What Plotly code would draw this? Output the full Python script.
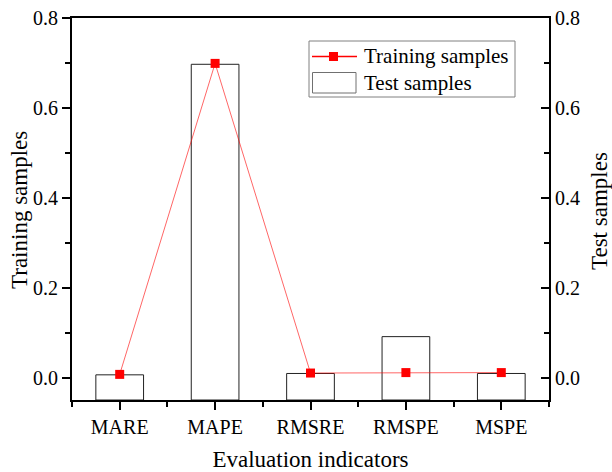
import plotly.graph_objects as go

categories = ["MARE", "MAPE", "RMSRE", "RMSPE", "MSPE"]
training = [0.007, 0.699, 0.010, 0.011, 0.011]
test = [0.006, 0.697, 0.009, 0.091, 0.009]
y_ticks = [0.0, 0.2, 0.4, 0.6, 0.8]
series_names = ["Training samples", "Test samples"]

Y_MIN, Y_MAX = -0.05, 0.8
FONT = "Liberation Serif"
W, H = 612, 472
ML, MR, MT, MB = 72, 63, 18, 72
xpos = list(range(len(categories)))


def px(x):
    return (x - ML) / (W - ML - MR)


def py(y):
    return (H - MB - y) / (H - MT - MB)


fig = go.Figure()
fig.add_trace(go.Scatter(
    x=xpos, y=training, name=series_names[0], yaxis="y2",
    mode="lines+markers", showlegend=False,
    line=dict(color="rgba(255,0,0,0.6)", width=1),
    marker=dict(symbol="square", size=9, color="#ff0000"),
))
fig.add_trace(go.Bar(
    x=xpos, y=[v - Y_MIN for v in test], base=Y_MIN, name=series_names[1],
    yaxis="y", width=0.5, showlegend=False,
    marker=dict(color="white", line=dict(color="#222222", width=1)),
))

tickfont = dict(family=FONT, size=20, color="black")
titlefont = dict(family=FONT, size=23, color="black")

# manual legend (box, samples, labels)
shapes = [
    dict(type="rect", xref="paper", yref="paper",
         x0=px(309), x1=px(515), y0=py(97), y1=py(41),
         line=dict(color="#808080", width=1), fillcolor="white", layer="above"),
    dict(type="line", xref="paper", yref="paper",
         x0=px(312), x1=px(357), y0=py(56.5), y1=py(56.5),
         line=dict(color="#ff0000", width=1.5), layer="above"),
    dict(type="rect", xref="paper", yref="paper",
         x0=px(329), x1=px(338), y0=py(61), y1=py(52),
         line=dict(width=0), fillcolor="#ff0000", layer="above"),
    dict(type="rect", xref="paper", yref="paper",
         x0=px(312.5), x1=px(356), y0=py(93), y1=py(72.5),
         line=dict(color="#707070", width=1), fillcolor="white", layer="above"),
]
legend_font = dict(family=FONT, size=21, color="black")
annotations = [
    dict(text=series_names[0], xref="paper", yref="paper", x=px(362), y=py(56),
         xanchor="left", yanchor="middle", showarrow=False, font=legend_font),
    dict(text=series_names[1], xref="paper", yref="paper", x=px(362), y=py(83),
         xanchor="left", yanchor="middle", showarrow=False, font=legend_font),
    dict(text="Test samples", xref="paper", yref="paper", x=px(600), y=py(211),
         xanchor="center", yanchor="middle", textangle=-90, showarrow=False,
         font=titlefont),
    dict(text="Training samples", xref="paper", yref="paper", x=px(19), y=py(210),
         xanchor="center", yanchor="middle", textangle=-90, showarrow=False,
         font=titlefont),
]

fig.update_layout(
    width=W, height=H,
    template="none",
    paper_bgcolor="white", plot_bgcolor="white",
    margin=dict(l=ML, r=MR, t=MT, b=MB),
    font=dict(family=FONT, color="black"),
    showlegend=False,
    shapes=shapes,
    annotations=annotations,
    xaxis=dict(
        range=[-0.5, len(categories) - 0.5],
        tickvals=xpos, ticktext=categories,
        showline=True, linecolor="black", linewidth=2, mirror=True,
        ticks="outside", ticklen=8, tickwidth=2, tickcolor="black",
        minor=dict(ticks="outside", tick0=0.5, dtick=1, ticklen=5, tickwidth=2, tickcolor="black"),
        showgrid=False, zeroline=False, automargin=False,
        tickfont=tickfont,
        title=dict(text="Evaluation indicators", font=titlefont, standoff=14),
    ),
    yaxis=dict(
        side="right", range=[Y_MIN, Y_MAX],
        tickvals=y_ticks, tickformat=".1f",
        showline=True, linecolor="black", linewidth=2,
        ticks="inside", ticklen=8, tickwidth=2, tickcolor="black",
        minor=dict(ticks="inside", dtick=0.1, tick0=0, ticklen=5, tickwidth=2, tickcolor="black"),
        showgrid=False, zeroline=False, automargin=False,
        tickfont=tickfont,
    ),
    yaxis2=dict(
        side="left", overlaying="y", range=[Y_MIN, Y_MAX],
        tickvals=y_ticks, tickformat=".1f",
        showline=True, linecolor="black", linewidth=2,
        ticks="outside", ticklen=8, tickwidth=2, tickcolor="black",
        minor=dict(ticks="outside", dtick=0.1, tick0=0, ticklen=5, tickwidth=2, tickcolor="black"),
        showgrid=False, zeroline=False, automargin=False,
        tickfont=tickfont,
    ),
)

fig.write_html("out.html")
